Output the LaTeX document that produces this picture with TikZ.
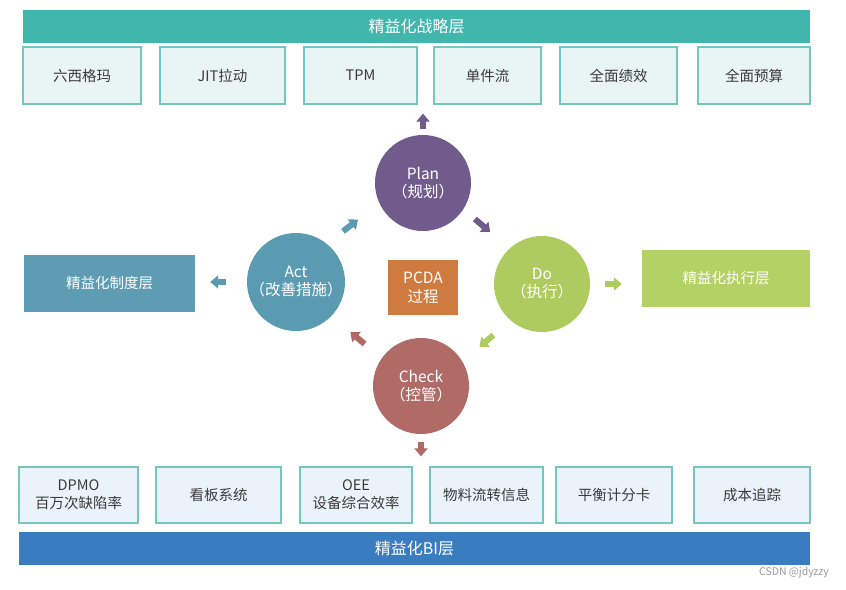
\documentclass[tikz,border=0pt]{standalone}
\usepackage{fontspec}
\setmainfont{Noto Sans CJK SC}
\usetikzlibrary{arrows.meta}

\definecolor{stratc}{HTML}{41B6AC}
\definecolor{bic}{HTML}{3A7CC0}
\definecolor{boxline}{HTML}{74C7BF}
\definecolor{topfill}{HTML}{E9F4F4}
\definecolor{botfill}{HTML}{EBF3FA}
\definecolor{textc}{HTML}{3A3A3A}
\definecolor{planc}{HTML}{705B8C}
\definecolor{doc}{HTML}{AECB5F}
\definecolor{checkc}{HTML}{B06B66}
\definecolor{actc}{HTML}{5B9BB1}
\definecolor{pcdac}{HTML}{CF7B3F}
\definecolor{rulec}{HTML}{5D9CB2}
\definecolor{execc}{HTML}{B3D165}

\begin{document}
\begin{tikzpicture}[x=1pt, y=-1pt,
    band/.style={minimum height=33pt, inner sep=0pt, text=white, font=\fontsize{16}{19}\selectfont},
    box/.style={draw=boxline, line width=1.2pt, minimum height=57pt, inner sep=0pt, text=textc, align=center, font=\fontsize{14.5}{18}\selectfont},
    phase/.style={circle, minimum size=96pt, inner sep=0pt, text=white, align=center, font=\fontsize{15.5}{18}\selectfont},
    turn/.style={line width=6pt, -{Triangle[width=13pt,length=8pt]}}]
    \useasboundingbox (0,0) rectangle (846,589);

    % Strategy layer
    \node[band, fill=stratc, minimum width=787pt] (Strat) at (416.5,26.5) {精益化战略层};
    \node[box, fill=topfill, minimum width=118pt] (SixSigma) at (82,75.5) {六西格玛};
    \node[box, fill=topfill, minimum width=125pt] (JIT) at (222.5,75.5) {JIT拉动};
    \node[box, fill=topfill, minimum width=113pt] (TPM) at (360.5,75.5) {TPM};
    \node[box, fill=topfill, minimum width=107pt] (Flow) at (487.5,75.5) {单件流};
    \node[box, fill=topfill, minimum width=117pt] (Perf) at (618.5,75.5) {全面绩效};
    \node[box, fill=topfill, minimum width=112pt] (Budget) at (754,75.5) {全面预算};

    % Cycle
    \node[phase, fill=planc] (Plan) at (423,183) {Plan\\（规划）};
    \node[phase, fill=doc] (Do) at (542,284) {Do\\（执行）};
    \node[phase, fill=checkc] (Check) at (421,386) {Check\\（控管）};
    \node[phase, fill=actc] (Act) at (296,282) {Act\\（改善措施）};
    \node[fill=pcdac, minimum width=70pt, minimum height=55pt, inner sep=0pt, text=white, align=center, font=\fontsize{15.5}{19}\selectfont] (PCDA) at (423,287.5) {PCDA\\过程};

    % Side layers
    \node[band, fill=rulec, minimum width=171pt, minimum height=57pt, font=\fontsize{14.5}{18}\selectfont] (Rule) at (109.5,283.5) {精益化制度层};
    \node[band, fill=execc, minimum width=168pt, minimum height=57pt, font=\fontsize{14.5}{18}\selectfont] (Exec) at (726,278.5) {精益化执行层};

    % BI layer
    \node[box, fill=botfill, minimum width=119pt, minimum height=56pt] (DPMO) at (78.5,495) {DPMO\\百万次缺陷率};
    \node[box, fill=botfill, minimum width=125pt, minimum height=56pt] (Kanban) at (218.5,495) {看板系统};
    \node[box, fill=botfill, minimum width=112pt, minimum height=56pt] (OEE) at (356,495) {OEE\\设备综合效率};
    \node[box, fill=botfill, minimum width=113pt, minimum height=56pt] (Material) at (486.5,495) {物料流转信息};
    \node[box, fill=botfill, minimum width=116pt, minimum height=56pt] (BSC) at (614,495) {平衡计分卡};
    \node[box, fill=botfill, minimum width=116pt, minimum height=56pt] (Cost) at (752,495) {成本追踪};
    \node[band, fill=bic, minimum width=791pt] (BI) at (414.5,548.5) {精益化BI层};

    % Arrows
    \draw[turn, planc, shorten <=68pt, shorten >=68pt] ([yshift=8pt]Plan.center) -- ([yshift=8pt]Do.center);
    \draw[turn, doc, shorten <=70pt, shorten >=70pt] ([xshift=5pt,yshift=-6pt]Do.center) -- ([xshift=5pt,yshift=-6pt]Check.center);
    \draw[turn, checkc, shorten <=72pt, shorten >=72pt] ([xshift=-1pt,yshift=-4pt]Check.center) -- ([xshift=-1pt,yshift=-4pt]Act.center);
    \draw[turn, actc, shorten <=71pt, shorten >=71pt] ([xshift=-9pt,yshift=7pt]Act.center) -- ([xshift=-9pt,yshift=7pt]Plan.center);
    \draw[turn, planc, shorten <=6pt, shorten >=9pt] (Plan.north) -- (Plan |- TPM.south);
    \draw[turn, doc, shorten <=15pt, shorten >=20pt] (Do.east) -- (Do.east -| Exec.west);
    \draw[turn, actc, shorten <=21pt, shorten >=15pt] (Act.west) -- (Act.west -| Rule.east);
    \draw[turn, checkc, shorten <=8pt, shorten >=10pt] (Check.south) -- (Check |- OEE.north);

    % Watermark
    \node[text=gray!80, font=\fontsize{10.5}{12}\selectfont] (Mark) at (794,573) {CSDN @jdyzzy};
\end{tikzpicture}
\end{document}
